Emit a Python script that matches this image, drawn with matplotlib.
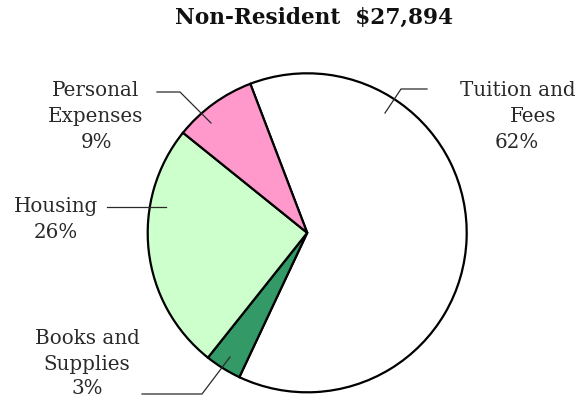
import matplotlib
matplotlib.use("Agg")
import matplotlib.pyplot as plt

title = "Non-Resident  $27,894"
categories = ["Tuition and Fees", "Books and Supplies", "Housing", "Personal Expenses"]
shares = [62.8, 3.7, 25.1, 8.4]          # angular share
pct_labels = ["62%", "3%", "26%", "9%"]
colors = ["#FFFFFF", "#339966", "#CCFFCC", "#FF99CC"]

W, H = 588, 400
fig = plt.figure(figsize=(W / 100, H / 100), dpi=100)
ax = fig.add_axes([0, 0, 1, 1])

cx, cy, r = 307.2, H - 232.8, 159.5
ax.pie(shares, colors=colors, startangle=110.9, counterclock=False,
       center=(cx, cy), radius=r,
       wedgeprops=dict(edgecolor="black", linewidth=1.6))

ax.set_xlim(0, W)
ax.set_ylim(0, H)
ax.set_aspect("equal")
ax.axis("off")

font = dict(family="DejaVu Serif", fontsize=14.3, color="#2a2a2a")
tc = "#2a2a2a"

def Y(y):
    return H - y

# Personal Expenses
for txt, y in [("Personal", 91), ("Expenses", 117), (pct_labels[3], 142)]:
    ax.text(96, Y(y), txt, ha="center", va="center", **font)
ax.plot([157, 180, 211], [Y(92), Y(92), Y(123)], color=tc, lw=0.9)

# Housing
for txt, y in [("Housing", 207), (pct_labels[2], 233)]:
    ax.text(56, Y(y), txt, ha="center", va="center", **font)
ax.plot([107, 166], [Y(207), Y(207)], color=tc, lw=0.9)

# Books and Supplies
for txt, y in [("Books and", 339), ("Supplies", 364), (pct_labels[1], 389)]:
    ax.text(87, Y(y), txt, ha="center", va="center", **font)
ax.plot([142, 202, 230], [Y(394), Y(394), Y(357)], color=tc, lw=0.9)

# Tuition and Fees
ax.text(518, Y(90), "Tuition and", ha="center", va="center", **font)
ax.text(533, Y(117), "Fees", ha="center", va="center", **font)
ax.text(517, Y(143), pct_labels[0], ha="center", va="center", **font)
ax.plot([427, 401, 385], [Y(89), Y(89), Y(113)], color=tc, lw=0.9)

ax.text(314, Y(18), title, ha="center", va="center",
        family="DejaVu Serif", fontsize=15.6, fontweight="bold", color="#111111")

fig.savefig("out.png", dpi=100)
